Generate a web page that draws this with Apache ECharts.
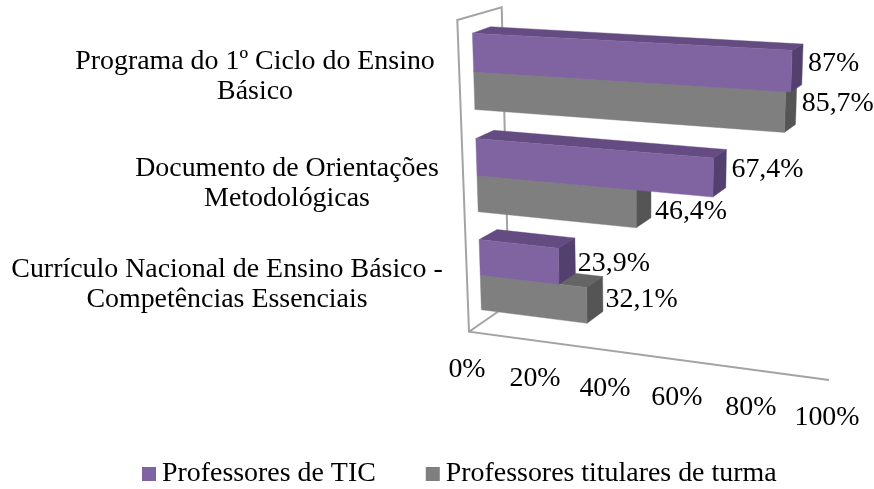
<!DOCTYPE html>
<html><head><meta charset="utf-8">
<style>html,body{margin:0;padding:0;background:#fff}#c{width:874px;height:489px}</style>
<script src="https://cdn.jsdelivr.net/npm/echarts@6/dist/echarts.min.js"></script>
</head><body><div id="c"></div>
<script>
// ---- data ----
const categories = ['Programa do 1º Ciclo do Ensino\nBásico','Documento de Orientações\nMetodológicas','Currículo Nacional de Ensino Básico -\nCompetências Essenciais'];
const seriesNames = ['Professores de TIC','Professores titulares de turma'];
const ticValues = [87,67.4,23.9];
const titularValues = [85.7,46.4,32.1];
const tickValues = [0,20,40,60,80,100];

// ---- look and projection (3D view of the chart's value/category plane) ----
const FONT='"Liberation Serif","Times New Roman",serif', FS=27.9;
const colors=[{front:'#8064A2',top:'#644c82',side:'#54406e'},{front:'#7F7F7F',top:'#656565',side:'#555555'}];
const GRID={left:472,top:18,width:370,height:352};
const frontQuad=[[471.9,18.1],[845.4,36.5],[831.3,369.2],[481.8,323.2]];
const backQuad=[[489.9,11.8],[854.9,30.7],[840.8,355.6],[499.8,311.6]];
const BAR_FRAC=0.72;
const labelNudge=[[[5,-1],[5,-1]],[[5,1],[4,12]],[[3,8],[3,6]]];
const catLabelPos=[[255,77],[287,184],[227,285]];

function homography(q){
  const [[x0,y0],[x1,y1],[x2,y2],[x3,y3]]=q;
  const dx1=x1-x2,dx2=x3-x2,sx=x0-x1+x2-x3,dy1=y1-y2,dy2=y3-y2,sy=y0-y1+y2-y3;
  const det=dx1*dy2-dx2*dy1;
  const g=(sx*dy2-dx2*sy)/det,h=(dx1*sy-sx*dy1)/det;
  const a=x1-x0+g*x1,b=x3-x0+h*x3,c=x0,d=y1-y0+g*y1,e=y3-y0+h*y3,f=y0;
  return (u,v)=>{const k=g*u+h*v+1;return [(a*u+b*v+c)/k,(d*u+e*v+f)/k];};
}
const front=homography(frontQuad), back=homography(backQuad);
const toUnit=(p,r)=>[(p[0]-r.x)/r.width,(p[1]-r.y)/r.height];

function barItem(si){
  return function(params,api){
    const r=params.coordSys, c=api.value(1), val=api.value(0);
    const band=api.size([0,1])[1];
    const hgt=band*BAR_FRAC/2;
    const cy=api.coord([0,c])[1];
    const y0=si===0?cy-hgt:cy, y1=si===0?cy:cy+hgt;
    const xs=r.x, xe=api.coord([val,c])[0];
    const U=(x,y)=>toUnit([x,y],r);
    const F=(x,y)=>front(...U(x,y)), B=(x,y)=>back(...U(x,y));
    const col=colors[si];
    const poly=(pts,fill)=>({type:'polygon',shape:{points:pts},style:{fill,stroke:fill,lineWidth:0.4}});
    const br0=B(xe,y0), br1=B(xe,y1);
    const n=labelNudge[c][si];
    return {type:'group',children:[
      poly([F(xs,y0),F(xe,y0),B(xe,y0),B(xs,y0)],col.top),
      poly([F(xe,y0),F(xe,y1),B(xe,y1),B(xe,y0)],col.side),
      poly([F(xs,y0),F(xe,y0),F(xe,y1),F(xs,y1)],col.front),
      {type:'text',z2:10,style:{text:String(val).replace('.',',')+'%',x:br0[0]+n[0],y:(br0[1]+br1[1])/2+n[1],
        font:FS+'px '+FONT,fill:'#000',align:'left',verticalAlign:'middle'}}
    ]};
  };
}

// walls and floor line
const wall={stroke:'#a3a3a3',lineWidth:2,fill:null};
const floorA=[469,331.7], floorB=[829,380];
const axisCurve=t=>t*0.932/(1-0.068*t);
const graphics=[
  {type:'polyline',silent:true,z:0,shape:{points:[[509,304],[501.7,7.3],[457.3,20],floorA,floorB]},style:wall},
  {type:'line',silent:true,z:0,shape:{x1:floorA[0],y1:floorA[1],x2:509,y2:304},style:wall}
];
tickValues.forEach(t=>{
  const f=axisCurve(t/100);
  graphics.push({type:'text',silent:true,z:5,style:{text:t+'%',
    x:floorA[0]+f*(floorB[0]-floorA[0])-2,y:floorA[1]+f*(floorB[1]-floorA[1])+38,
    font:FS+'px '+FONT,fill:'#000',align:'center',verticalAlign:'middle'}});
});
categories.forEach((n,i)=>{
  graphics.push({type:'text',silent:true,z:5,style:{text:n,x:catLabelPos[i][0],y:catLabelPos[i][1],
    font:FS+'px '+FONT,lineHeight:30,fill:'#000',align:'center',verticalAlign:'middle'}});
});

const chart=echarts.init(document.getElementById('c'),null,{renderer:'canvas'});
chart.setOption({
  animation:false,
  backgroundColor:'#fff',
  grid:Object.assign({show:false,containLabel:false},GRID),
  xAxis:{type:'value',min:0,max:100,interval:20,show:false},
  yAxis:{type:'category',data:categories,inverse:true,show:false},
  legend:{data:seriesNames,left:142,top:460,padding:0,itemWidth:14,itemHeight:14,itemGap:50,icon:'rect',
    selectedMode:false,textStyle:{fontFamily:FONT,fontSize:FS,color:'#000',padding:[3,0,0,1]}},
  graphic:graphics,
  series:[
    {name:seriesNames[0],type:'custom',z:3,coordinateSystem:'cartesian2d',clip:false,itemStyle:{color:colors[0].front},
      encode:{x:0,y:1},renderItem:barItem(0),data:ticValues.map((v,i)=>[v,i])},
    {name:seriesNames[1],type:'custom',z:2,coordinateSystem:'cartesian2d',clip:false,itemStyle:{color:colors[1].front},
      encode:{x:0,y:1},renderItem:barItem(1),data:titularValues.map((v,i)=>[v,i])}
  ]
});
</script></body></html>
